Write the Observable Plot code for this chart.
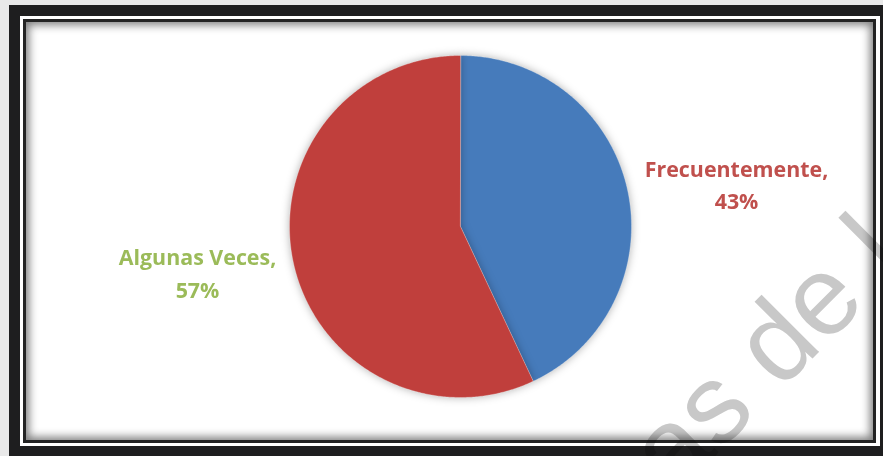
<!DOCTYPE html>
<html>
<head>
<meta charset="utf-8">
<script src="https://cdn.jsdelivr.net/npm/d3@7"></script>
<script src="https://cdn.jsdelivr.net/npm/@observablehq/plot@0.6"></script>
<style>
  html, body { margin: 0; padding: 0; }
  body { width: 883px; height: 456px; overflow: hidden; position: relative; background: #e9e9e9; }
  .outer { position: absolute; left: 9px; top: 5px; width: 874px; height: 451px; background: #1e1e1f; }
  .whiteline { position: absolute; left: 20px; top: 16px; width: 860px; height: 430px; background: #ffffff; }
  .innerline { position: absolute; left: 23px; top: 19px; width: 853px; height: 424px; background: #232323; }
  .panel { position: absolute; left: 26px; top: 22px; width: 847px; height: 418px; background: #ffffff;
           box-shadow: inset 0 0 9px 3px rgba(40,40,40,0.6); }
  #chart { position: absolute; left: 0; top: 0; }
  .pie g[aria-label="line"] { filter: drop-shadow(0 0 4px rgba(0,0,0,0.3)); }
  #wm { position: absolute; left: 0; top: 0; mix-blend-mode: multiply; pointer-events: none; }
</style>
</head>
<body>
<div class="outer"></div>
<div class="whiteline"></div>
<div class="innerline"></div>
<div class="panel"></div>
<div id="chart"></div>
<svg id="wm" width="883" height="456">
  <text transform="translate(908,263) rotate(-45)" text-anchor="end"
        font-family="Liberation Sans, Arial, sans-serif" font-size="112" fill="#c8c8c8">as de l</text>
</svg>
<script>
const categories = ["Frecuentemente", "Algunas Veces"];
const values = [43, 57];
const sliceColors = ["#467bbb", "#c03f3c"];
const labelColors = ["#c0504d", "#9bbb59"];

const pie = d3.pie().sort(null).startAngle(0).endAngle(2 * Math.PI);
const arcs = pie(values);

// polygon outline for each slice, derived from the pie angles
function slicePoints(a) {
  const pts = [{x: 0, y: 0}];
  const n = Math.max(2, Math.ceil((a.endAngle - a.startAngle) / (Math.PI / 360)));
  for (let i = 0; i <= n; i++) {
    const t = a.startAngle + (a.endAngle - a.startAngle) * i / n;
    pts.push({x: Math.sin(t), y: Math.cos(t)});
  }
  return pts;
}

const total = d3.sum(values);
const labels = arcs.map((a, i) => {
  const mid = (a.startAngle + a.endAngle) / 2;
  return {
    x: Math.sin(mid) * 1.6,
    y: Math.cos(mid) * 1.6,
    text: `${categories[i]},\n${Math.round(values[i] / total * 100)}%`,
    color: labelColors[i]
  };
});

const marks = arcs.map((a, i) =>
  Plot.line(slicePoints(a), {x: "x", y: "y", curve: "linear-closed",
    fill: sliceColors[i], stroke: "#ffffff", strokeOpacity: 0.35, strokeWidth: 0.8})
);
const textStyle = {x: "x", y: "y", text: "text", fill: "color",
  fontFamily: "Open Sans", fontWeight: "bold", fontSize: 21.4, lineHeight: 1.52,
  textAnchor: "middle"};
marks.push(Plot.text([labels[0]], {...textStyle, dx: 9, dy: 16}));
marks.push(Plot.text([labels[1]], {...textStyle, dx: 4, dy: -15}));

const chart = Plot.plot({
  width: 883, height: 456,
  margin: 0,
  className: "pie",
  style: {background: "transparent", overflow: "visible"},
  x: {domain: [-1, 1], range: [289, 631], axis: null},
  y: {domain: [-1, 1], range: [397, 55], axis: null},
  marks
});
document.getElementById("chart").appendChild(chart);
</script>
</body>
</html>
